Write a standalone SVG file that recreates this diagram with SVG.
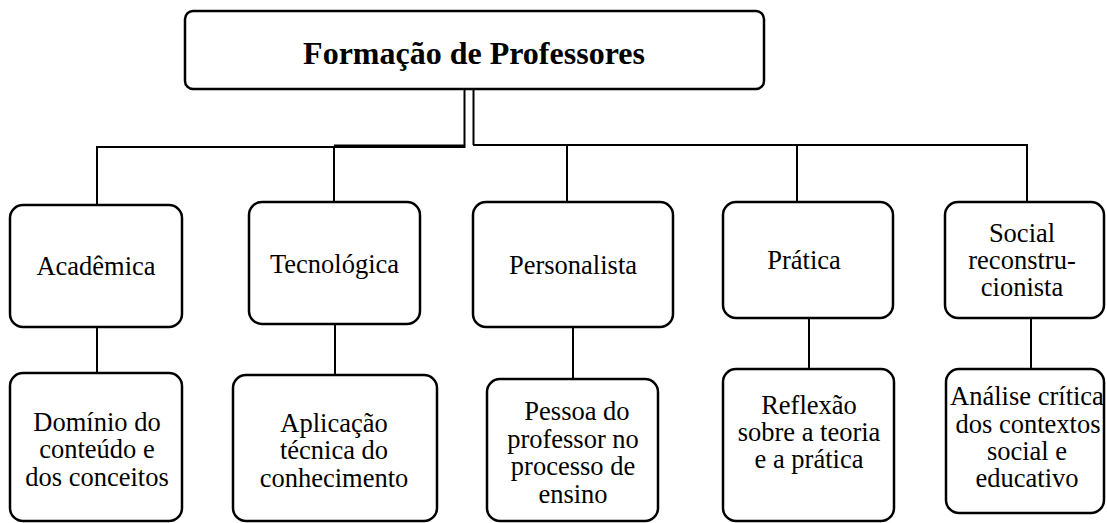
<svg xmlns="http://www.w3.org/2000/svg" width="1107" height="523" viewBox="0 0 1107 523">
<style>
.box{fill:#fff;stroke:#000;stroke-width:2.5}
.ln{fill:none;stroke:#000;stroke-width:2}
.t{font-family:'Liberation Serif','Times New Roman',serif;font-size:26.5px;text-anchor:middle;fill:#000}
.title{font-family:'Liberation Serif','Times New Roman',serif;font-size:32px;font-weight:bold;text-anchor:middle;fill:#000}
</style>
<rect width="1107" height="523" fill="#fff"/>
<g id="connectors">
<path class="ln" d="M464.5 89 V147 H97 V205" stroke-width="1.8"/>
<path class="ln" d="M334 147 V202"/>
<path class="ln" d="M334 145.5 H465" stroke-width="3"/>
<path class="ln" d="M473.5 89 V145" stroke-width="3"/>
<path class="ln" d="M473 145 H1027 V202"/>
<path class="ln" d="M567 145 V202"/>
<path class="ln" d="M797 145 V202"/>
<path class="ln" d="M97 327 V373"/>
<path class="ln" d="M335 324 V375"/>
<path class="ln" d="M573 327 V379"/>
<path class="ln" d="M809 318 V369"/>
<path class="ln" d="M1031 318 V369"/>
</g>
<g id="n-root"><rect class="box" x="185" y="11" width="579" height="78" rx="8"/><text class="title" x="474" y="64">Formação de Professores</text></g>
<g id="n-academica"><rect class="box" x="10" y="205" width="172" height="122" rx="13"/><text class="t" x="96" y="275">Acadêmica</text></g>
<g id="n-tecnologica"><rect class="box" x="249" y="202" width="171" height="122" rx="13"/><text class="t" x="334.5" y="273">Tecnológica</text></g>
<g id="n-personalista"><rect class="box" x="473" y="202" width="200" height="125" rx="13"/><text class="t" x="573" y="274">Personalista</text></g>
<g id="n-pratica"><rect class="box" x="723" y="202" width="170" height="116" rx="13"/><text class="t" x="804" y="269">Prática</text></g>
<g id="n-social"><rect class="box" x="945" y="202" width="159" height="116" rx="13"/><text class="t"><tspan x="1022" y="242">Social</tspan><tspan x="1022" y="269">reconstru-</tspan><tspan x="1022" y="296">cionista</tspan></text></g>
<g id="n-dominio"><rect class="box" x="10" y="373" width="172" height="148" rx="13"/><text class="t"><tspan x="97" y="431">Domínio do</tspan><tspan x="97" y="458">conteúdo e</tspan><tspan x="97" y="486">dos conceitos</tspan></text></g>
<g id="n-aplicacao"><rect class="box" x="233" y="375" width="204" height="146" rx="13"/><text class="t"><tspan x="334" y="432">Aplicação</tspan><tspan x="334" y="459">técnica do</tspan><tspan x="334" y="487">conhecimento</tspan></text></g>
<g id="n-pessoa"><rect class="box" x="487" y="379" width="171" height="142" rx="13"/><text class="t"><tspan x="577" y="420">Pessoa do</tspan><tspan x="573" y="448">professor no</tspan><tspan x="573" y="475">processo de</tspan><tspan x="573" y="503">ensino</tspan></text></g>
<g id="n-reflexao"><rect class="box" x="723" y="369" width="171" height="152" rx="13"/><text class="t"><tspan x="809" y="414">Reflexão</tspan><tspan x="809" y="441">sobre a teoria</tspan><tspan x="809" y="468">e a prática</tspan></text></g>
<g id="n-analise"><rect class="box" x="946" y="369" width="158" height="144" rx="13"/><text class="t"><tspan x="1027" y="405">Análise crítica</tspan><tspan x="1028" y="433">dos contextos</tspan><tspan x="1027" y="460">social e</tspan><tspan x="1027" y="487">educativo</tspan></text></g>
</svg>
